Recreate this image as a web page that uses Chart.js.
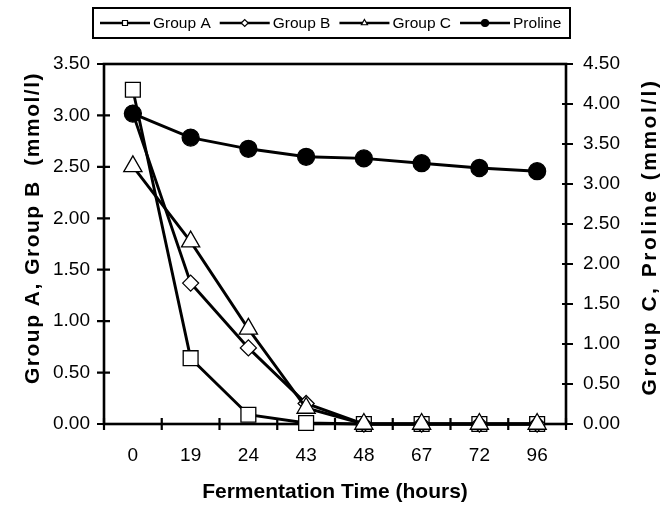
<!DOCTYPE html>
<html><head><meta charset="utf-8">
<script src="https://cdn.jsdelivr.net/npm/chart.js@4.4.1/dist/chart.umd.min.js"></script>
<style>html,body{margin:0;padding:0;background:#fff}#wrap{width:660px;height:505px}</style>
</head><body><div id="wrap"><canvas id="c" width="660" height="505"></canvas></div>
<script>
const categories = ['0', '19', '24', '43', '48', '67', '72', '96'];
const groupA = [3.25, 0.64, 0.09, 0.01, 0, 0, 0, 0];
const groupB = [3.02, 1.37, 0.74, 0.20, 0, 0, 0, 0];
const groupC = [3.22, 2.28, 1.19, 0.20, 0, 0, 0, 0];
const proline = [3.88, 3.58, 3.44, 3.34, 3.32, 3.26, 3.20, 3.16];
const xTitle = 'Fermentation Time (hours)';
const leftTitle = 'Group A, Group B  (mmol/l)';
const rightTitle = 'Group C, Proline (mmol/l)';

const FONT = "'Liberation Sans', Arial, Helvetica, sans-serif";

function drawMarker(ctx, style, x, y, r, fill) {
  ctx.beginPath();
  if (style === 'rect') {
    ctx.rect(x - r, y - r, 2 * r, 2 * r);
  } else if (style === 'rectRot') {
    ctx.moveTo(x - r, y); ctx.lineTo(x, y - r); ctx.lineTo(x + r, y); ctx.lineTo(x, y + r); ctx.closePath();
  } else if (style === 'triangle') {
    ctx.moveTo(x, y - r); ctx.lineTo(x + r * 0.866, y + r * 0.5); ctx.lineTo(x - r * 0.866, y + r * 0.5); ctx.closePath();
  } else {
    ctx.arc(x, y, r, 0, Math.PI * 2);
  }
  ctx.fillStyle = fill; ctx.fill();
  ctx.lineWidth = 1.2; ctx.strokeStyle = '#000'; ctx.stroke();
}

const framePlugin = {
  id: 'frame',
  beforeDatasetsDraw(chart) {
    const {ctx, chartArea: a, scales} = chart;
    ctx.save();
    ctx.strokeStyle = '#000';
    ctx.lineWidth = 2.6;
    ctx.strokeRect(a.left, a.top, a.right - a.left, a.bottom - a.top);
    ctx.lineWidth = 2.2;
    ctx.beginPath();
    scales.y.ticks.forEach(t => { const p = scales.y.getPixelForValue(t.value); ctx.moveTo(a.left - 7, p); ctx.lineTo(a.left + 6, p); });
    scales.y2.ticks.forEach(t => { const p = scales.y2.getPixelForValue(t.value); ctx.moveTo(a.right - 4, p); ctx.lineTo(a.right + 7, p); });
    for (let i = 0; i <= categories.length; i++) {
      const p = scales.x.getPixelForValue(i - 0.5);
      ctx.moveTo(p, a.bottom - 6); ctx.lineTo(p, a.bottom + 6);
    }
    ctx.stroke();
    ctx.restore();
  },
  afterDraw(chart) {
    const {ctx} = chart;
    ctx.save();
    // legend
    ctx.lineWidth = 2; ctx.strokeStyle = '#000';
    ctx.strokeRect(93, 8, 477, 30);
    ctx.font = '15.5px ' + FONT;
    ctx.textBaseline = 'middle';
    ctx.fillStyle = '#000';
    const cy = 23;
    let x = 100;
    chart.data.datasets.slice().sort((p, q) => q.order - p.order).forEach(ds => {
      ctx.beginPath(); ctx.lineWidth = 2.6; ctx.strokeStyle = '#000';
      ctx.moveTo(x, cy); ctx.lineTo(x + 50, cy); ctx.stroke();
      const lr = ds.pointStyle === 'circle' ? 3.5 : (ds.pointStyle === 'rect' ? 2.5 : 3.5);
      drawMarker(ctx, ds.pointStyle, x + 25, cy, lr, ds.pointBackgroundColor);
      ctx.fillStyle = '#000';
      ctx.textAlign = 'left';
      ctx.fillText(ds.label, x + 53, cy + 1);
      x += 53 + ctx.measureText(ds.label).width + 9;
    });
    // vertical titles
    ctx.font = 'bold 21px ' + FONT;
    ctx.textAlign = 'center';
    ctx.fillStyle = '#000';
    try { ctx.letterSpacing = '1.5px'; } catch (e) {}
    ctx.save(); ctx.translate(33, 228); ctx.rotate(-Math.PI / 2); ctx.fillText(leftTitle, 0, 0); ctx.restore();
    try { ctx.letterSpacing = '2.5px'; } catch (e) {}
    ctx.save(); ctx.translate(650, 237); ctx.rotate(-Math.PI / 2); ctx.fillText(rightTitle, 0, 0); ctx.restore();
    try { ctx.letterSpacing = '0px'; } catch (e) {}
    ctx.restore();
  }
};

const common = {borderColor: '#000', borderWidth: 2.9, pointBorderColor: '#000', pointBorderWidth: 1.3, tension: 0, clip: false, fill: false};

new Chart(document.getElementById('c'), {
  type: 'line',
  data: {
    labels: categories,
    datasets: [
      Object.assign({label: 'Proline', data: proline, yAxisID: 'y2', pointStyle: 'circle', pointRadius: 8.5, pointBackgroundColor: '#000', order: 0}, common),
      Object.assign({label: 'Group C', data: groupC, yAxisID: 'y2', pointStyle: 'triangle', pointRadius: 10.5, pointBackgroundColor: '#fff', order: 1}, common),
      Object.assign({label: 'Group B', data: groupB, yAxisID: 'y', pointStyle: 'rectRot', pointRadius: 8, pointBackgroundColor: '#fff', order: 2}, common),
      Object.assign({label: 'Group A', data: groupA, yAxisID: 'y', pointStyle: 'rect', pointRadius: 10.5, pointBackgroundColor: '#fff', order: 3}, common)
    ]
  },
  options: {
    responsive: false,
    animation: false,
    layout: {padding: {top: 64, left: 0, right: 0, bottom: 0}},
    plugins: {legend: {display: false}, tooltip: {enabled: false}},
    scales: {
      x: {
        type: 'category', offset: true,
        grid: {display: false, drawTicks: false}, border: {display: false},
        ticks: {color: '#000', font: {family: FONT, size: 19}, padding: 20, maxRotation: 0, autoSkip: false},
        title: {display: true, text: xTitle, color: '#000', font: {family: FONT, size: 21, weight: 'bold'}, padding: {top: 0, bottom: 0}},
        afterFit(s) { s.height = 81; }
      },
      y: {
        position: 'left', min: 0, max: 3.5,
        grid: {display: false, drawTicks: false}, border: {display: false},
        ticks: {stepSize: 0.5, color: '#000', font: {family: FONT, size: 19}, padding: 14, callback: v => Number(v).toFixed(2)},
        afterFit(s) { s.width = 104; }
      },
      y2: {
        position: 'right', min: 0, max: 4.5,
        grid: {display: false, drawTicks: false}, border: {display: false},
        ticks: {stepSize: 0.5, color: '#000', font: {family: FONT, size: 19}, padding: 17, callback: v => Number(v).toFixed(2)},
        afterFit(s) { s.width = 94; }
      }
    }
  },
  plugins: [framePlugin]
});
</script>
</body></html>
